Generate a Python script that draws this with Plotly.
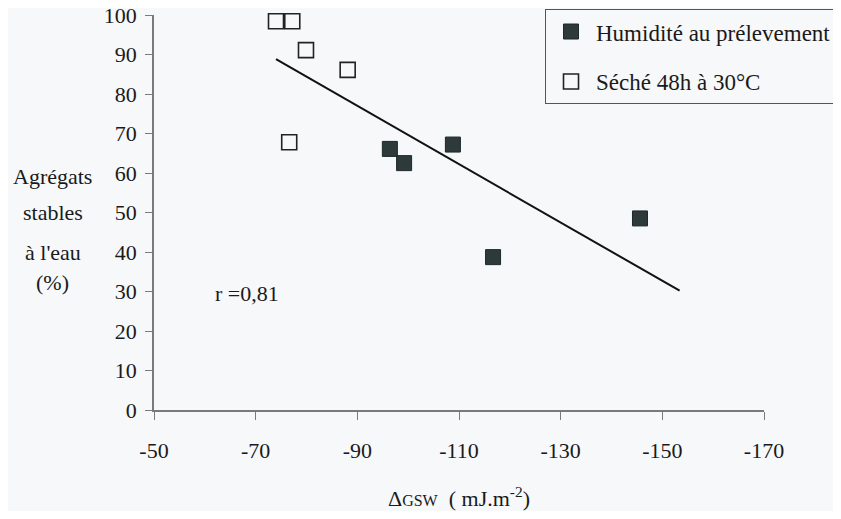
"""
plot.py — Agrégats stables à l'eau en fonction de ΔGSW
"""
import plotly.graph_objects as go

# Humidité au prélevement (carrés pleins)
humide_x = [-96.4, -99.2, -108.8, -116.7, -145.6]
humide_y = [66.1, 62.5, 67.2, 38.7, 48.5]

# Séché 48h à 30°C (carrés vides)
seche_x = [-74.0, -77.2, -79.9, -88.1, -76.6]
seche_y = [98.4, 98.4, 91.1, 86.1, 67.8]

# Droite de régression (extrémités)
droite_x = [-74.0, -153.4]
droite_y = [88.8, 30.2]

x_ticks = [-50, -70, -90, -110, -130, -150, -170]
x_labels = ["-50", "-70", "-90", "-110", "-130", "-150", "-170"]
y_ticks = [0, 10, 20, 30, 40, 50, 60, 70, 80, 90, 100]

# pas de police à empattements dans le bac à sable : on garde une liste de repli
FONT = "Times New Roman, Times, Liberation Serif, Noto Serif, FreeSerif, DejaVu Serif, serif"
BG = "#f6f8fa"
AXIS = "#7a7a7a"
DARK = "#2e3a3a"
TXT = "#1a1a1a"
SIZE = 22

fig = go.Figure()

fig.add_trace(
    go.Scatter(
        x=droite_x,
        y=droite_y,
        mode="lines",
        line=dict(color="#111111", width=2),
        showlegend=False,
        hoverinfo="skip",
    )
)

fig.add_trace(
    go.Scatter(
        x=humide_x,
        y=humide_y,
        mode="markers",
        name="Humidité au prélevement",
        legendgroup="a",
        cliponaxis=False,
        marker=dict(symbol="square", size=15, color=DARK, line=dict(color="#1e2828", width=1)),
    )
)

fig.add_trace(
    go.Scatter(
        x=seche_x,
        y=seche_y,
        mode="markers",
        name="Séché 48h à 30°C",
        legendgroup="b",
        cliponaxis=False,
        marker=dict(symbol="square-open", size=15, color="#222222", line=dict(width=1.6)),
    )
)

# Titre de l'axe Y, ligne par ligne
for texte, ypos in [("Agrégats", 0.592), ("stables", 0.499), ("à l'eau", 0.40), ("(%)", 0.324)]:
    fig.add_annotation(
        text=texte,
        xref="paper",
        yref="paper",
        x=-0.166,
        y=ypos,
        xanchor="center",
        yanchor="middle",
        showarrow=False,
        font=dict(family=FONT, size=SIZE, color=TXT),
    )

fig.add_annotation(
    text="r =0,81",
    x=-61.6,
    y=29.4,
    xanchor="left",
    yanchor="middle",
    showarrow=False,
    font=dict(family=FONT, size=SIZE, color=TXT),
)

fig.update_layout(
    width=825,
    height=503,
    margin=dict(l=146, r=69, t=7, b=101, autoexpand=False),
    paper_bgcolor=BG,
    plot_bgcolor=BG,
    font=dict(family=FONT, size=SIZE, color=TXT),
    legend=dict(
        x=0.641,
        y=1.015,
        xanchor="left",
        yanchor="top",
        bgcolor=BG,
        bordercolor="#555555",
        borderwidth=1,
        tracegroupgap=17,
        traceorder="grouped",
        font=dict(family=FONT, size=23, color=TXT),
        itemwidth=40,
    ),
    xaxis=dict(
        range=[-50, -170],
        tickvals=x_ticks,
        ticktext=x_labels,
        tickfont=dict(size=SIZE),
        ticks="outside",
        ticklen=8,
        tickcolor=AXIS,
        showline=True,
        linecolor=AXIS,
        linewidth=1.5,
        showgrid=False,
        zeroline=False,
        automargin=False,
        ticklabeloverflow="allow",
        ticklabelstandoff=12,
        title=dict(
            text="Δ<span style='font-size:16px'>GSW</span>  ( mJ.m<sup>-2</sup>)",
            font=dict(family=FONT, size=SIZE),
            standoff=29,
        ),
    ),
    yaxis=dict(
        range=[0, 100],
        tickvals=y_ticks,
        tickfont=dict(size=SIZE),
        ticks="outside",
        ticklen=7,
        tickcolor=AXIS,
        showline=True,
        linecolor=AXIS,
        linewidth=1.5,
        showgrid=False,
        zeroline=False,
        automargin=False,
        ticklabeloverflow="allow",
        ticklabelstandoff=4,
    ),
)

fig.write_html("out.html")
